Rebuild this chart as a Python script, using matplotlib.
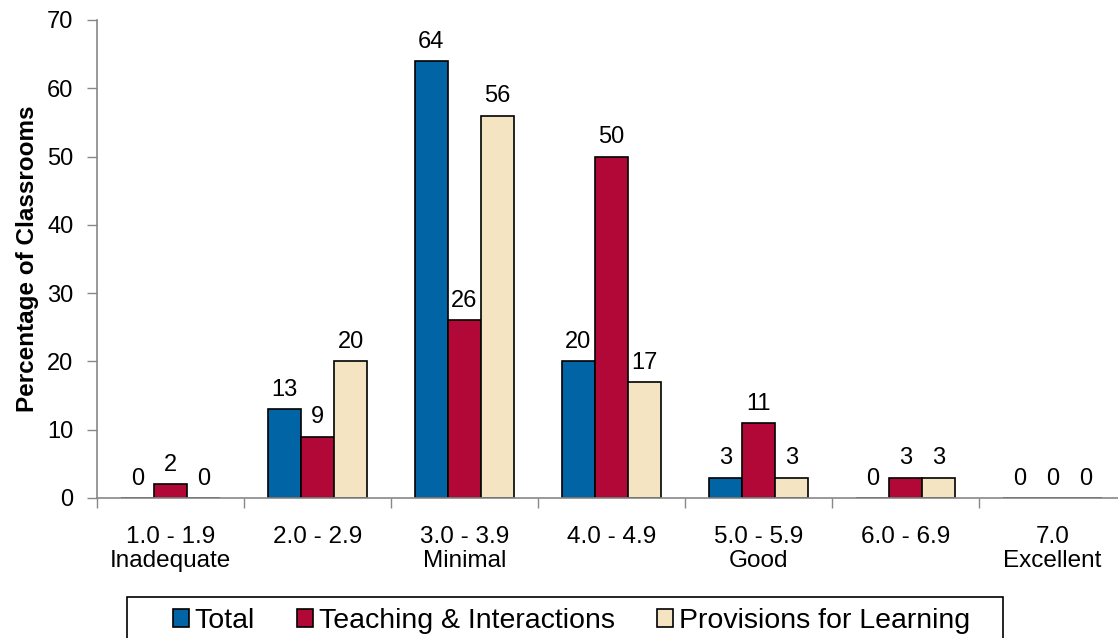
import numpy as np
import matplotlib
matplotlib.use("Agg")
import matplotlib.pyplot as plt
from matplotlib.patches import Rectangle

plt.rcParams["font.family"] = ["Liberation Sans", "DejaVu Sans"]

categories = ["1.0 - 1.9\nInadequate", "2.0 - 2.9", "3.0 - 3.9\nMinimal", "4.0 - 4.9",
              "5.0 - 5.9\nGood", "6.0 - 6.9", "7.0\nExcellent"]
total = [0, 13, 64, 20, 3, 0, 0]
teaching = [2, 9, 26, 50, 11, 3, 0]
provisions = [0, 20, 56, 17, 3, 3, 0]

series = [
    ("Total", total, "#0064A5"),
    ("Teaching & Interactions", teaching, "#B20838"),
    ("Provisions for Learning", provisions, "#F4E4C2"),
]

W, H = 1118, 638
fig = plt.figure(figsize=(W / 100, H / 100), dpi=100)
ax = fig.add_axes([97 / W, 1 - 498 / H, 1029 / W, 478 / H])

x = np.arange(len(categories))
w = 0.225
for i, (name, vals, col) in enumerate(series):
    pos = x + (i - 1) * w
    ax.bar(pos, vals, width=w, color=col, edgecolor="black", linewidth=1.2, label=name)
    for px, v in zip(pos, vals):
        ax.annotate(str(v), (px, v), xytext=(0, 6), textcoords="offset points",
                    ha="center", va="bottom", fontsize=17)

ax.set_xlim(-0.5, len(categories) - 0.5)
ax.set_ylim(0, 70)
ax.set_yticks(range(0, 71, 10))
ax.tick_params(axis="y", labelsize=17, length=7, width=1, color="#888888", pad=10)

ax.set_xticks(x)
ax.set_xticklabels(categories, linespacing=1.12)
ax.set_xticks(np.arange(-0.5, len(categories), 1), minor=True)
ax.tick_params(axis="x", which="major", length=0, labelsize=17.5, pad=20)
ax.tick_params(axis="x", which="minor", length=7, width=1, color="#888888")

for s in ["top", "right"]:
    ax.spines[s].set_visible(False)
for s in ["left", "bottom"]:
    ax.spines[s].set_color("#888888")
    ax.spines[s].set_linewidth(1.2)

ax.set_ylabel("Percentage of Classrooms", fontsize=17.5, fontweight="bold", labelpad=6)

# legend box (bottom edge runs off the figure like the original)
fig.add_artist(Rectangle((127 / W, -0.05), (1003 - 127) / W, 0.05 + 1 - 597 / H,
                         transform=fig.transFigure, facecolor="none",
                         edgecolor="black", linewidth=1.2))
fig.legend(loc="upper left", bbox_to_anchor=(173 / W, 1 - 608 / H),
           ncol=3, fontsize=20.5, frameon=False, borderpad=0, borderaxespad=0,
           handlelength=0.55, handleheight=0.55, handletextpad=0.2, columnspacing=1.5)

fig.savefig("out.png", dpi=100)
